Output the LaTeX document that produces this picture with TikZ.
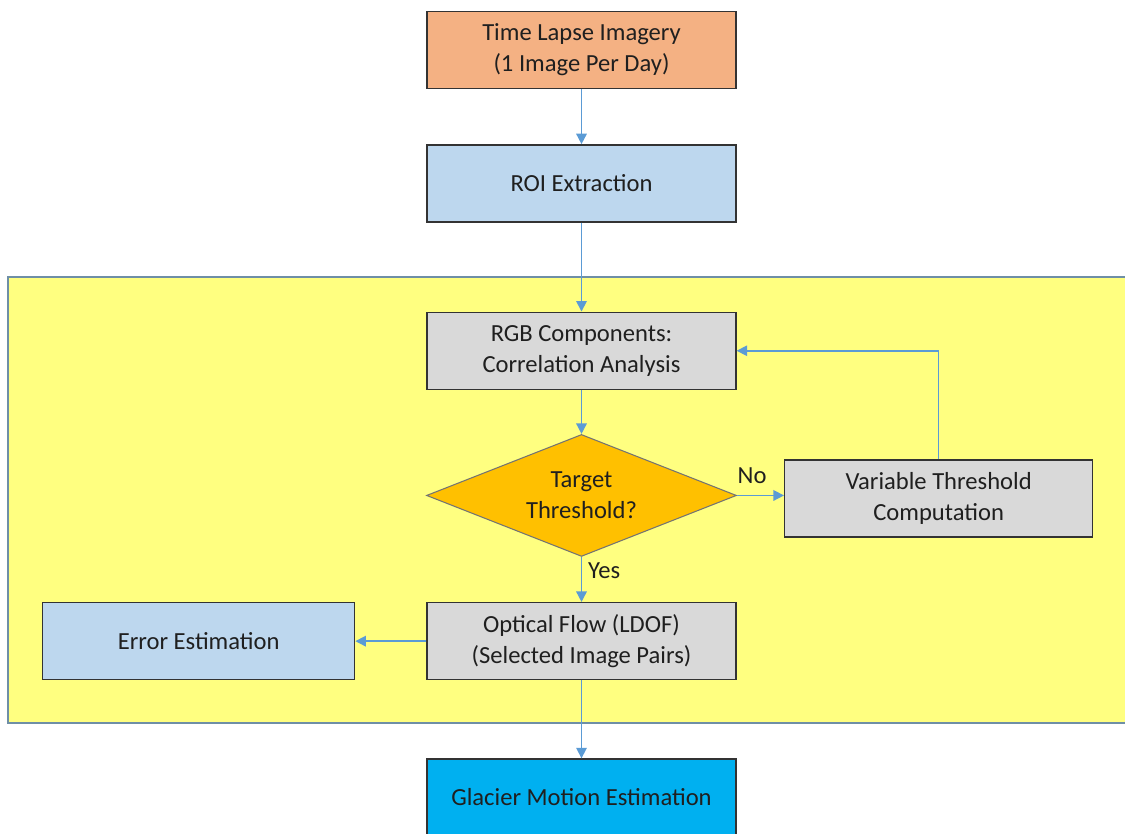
\documentclass[tikz,border=0pt]{standalone}
\usepackage{fontspec}
\setmainfont{Carlito}
\usepackage{tikz}
\usetikzlibrary{positioning,shapes.geometric,arrows.meta}

\definecolor{orangebox}{HTML}{F4B183}
\definecolor{bluebox}{HTML}{BDD7EE}
\definecolor{graybox}{HTML}{D9D9D9}
\definecolor{goldbox}{HTML}{FFC000}
\definecolor{cyanbox}{HTML}{00B0F0}
\definecolor{yellowbg}{HTML}{FFFF80}
\definecolor{linkblue}{HTML}{5B9BD5}
\definecolor{framegray}{HTML}{6F8FA6}
\definecolor{textdark}{HTML}{1F1F1F}

\begin{document}
\begin{tikzpicture}[x=0.02cm, y=-0.02cm, font=\fontsize{14}{17.5}\selectfont, text=textdark]
		\tikzstyle{block} = [rectangle, draw=black!80, line width=0.8pt, align=center, minimum width=6.18cm, minimum height=1.54cm];
		\tikzstyle{decision} = [diamond, draw=black!55, line width=0.6pt, fill=goldbox, align=center, aspect=2.54, inner sep=0pt, minimum width=6.2cm, minimum height=2.44cm];
		\tikzstyle{link} = [draw=linkblue, line width=0.9pt, -{Triangle[width=6pt,length=6pt]}];
		
		\useasboundingbox (0,0) rectangle (1125,834);
		% yellow processing area
		\fill[yellowbg, draw=framegray, line width=0.6pt] (8,277) rectangle (1135,723);
		
		\node[block, fill=orangebox] (imagery) at (581.5,50) {Time Lapse Imagery\\(1 Image Per Day)};
		\node[block, fill=bluebox, below = 1.1cm of imagery] (roi) {ROI Extraction};
		\node[block, fill=graybox, below = 1.78cm of roi] (rgb) {RGB Components:\\Correlation Analysis};
		\node[decision, below = 0.88cm of rgb] (target) {Target\\Threshold?};
		\node[block, fill=graybox, right = 0.94cm of target, minimum width=6.16cm, yshift=-0.06cm] (variable) {Variable Threshold\\Computation};
		\node[block, fill=graybox, below = 0.9cm of target] (optical) {Optical Flow (LDOF)\\(Selected Image Pairs)};
		\node[block, fill=bluebox, left = 1.42cm of optical, minimum width=6.24cm] (error) {Error Estimation};
		\node[block, fill=cyanbox, below = 1.56cm of optical] (glacier) {Glacier Motion Estimation};
		
		\path[link, every edge/.style={link}] (imagery) edge (roi)
		(roi) edge (rgb)
		(rgb) edge (target)
		(target) edge node[above, pos=0.32, yshift=3pt]{No} (target.east -| variable.west)
		(target) edge node[right, pos=0.3]{Yes} (optical)
		(optical) edge (error)
		(optical) edge (glacier);
		
		\draw[link] (variable.north) |- (rgb.east);
\end{tikzpicture}
\end{document}
